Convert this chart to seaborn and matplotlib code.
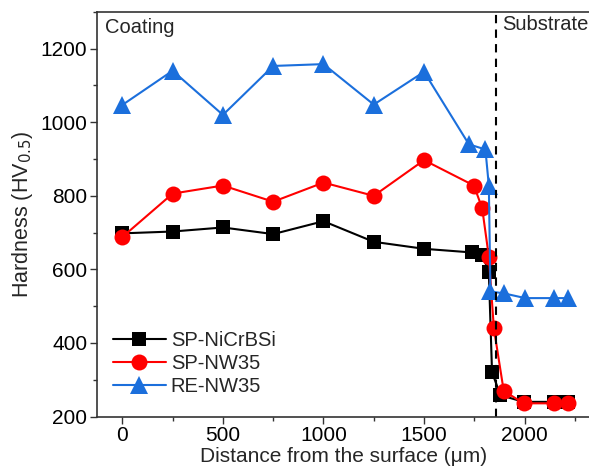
import numpy as np
import pandas as pd
import matplotlib
matplotlib.use('Agg')
import matplotlib.pyplot as plt
import seaborn as sns
from matplotlib.ticker import MultipleLocator

# data
x_nicrbsi = [0, 250, 500, 750, 1000, 1250, 1500, 1740, 1790, 1822, 1838, 1880, 1995, 2144, 2218]
y_nicrbsi = [698, 703, 714, 696, 731, 675, 656, 646, 640, 592, 320, 258, 240, 240, 240]

x_nw35 = [0, 250, 500, 750, 1000, 1250, 1500, 1748, 1789, 1822, 1847, 1896, 1995, 2144, 2218]
y_nw35 = [688, 806, 828, 784, 836, 800, 897, 828, 766, 635, 440, 270, 236, 236, 237]

x_re = [0, 250, 500, 750, 1000, 1250, 1500, 1723, 1805, 1822, 1830, 1896, 2003, 2144, 2218]
y_re = [1047, 1140, 1020, 1153, 1158, 1048, 1137, 940, 926, 828, 540, 535, 522, 522, 522]

series_names = ['SP-NiCrBSi', 'SP-NW35', 'RE-NW35']
interface = 1860

df = pd.concat([
    pd.DataFrame({'x': x_nicrbsi, 'y': y_nicrbsi, 'sample': series_names[0]}),
    pd.DataFrame({'x': x_nw35, 'y': y_nw35, 'sample': series_names[1]}),
    pd.DataFrame({'x': x_re, 'y': y_re, 'sample': series_names[2]}),
], ignore_index=True)

sns.set_style('ticks')
plt.rcParams['font.family'] = ['Liberation Sans', 'DejaVu Sans']

fig = plt.figure(figsize=(5.89, 4.75), dpi=100)
ax = fig.add_axes([0.165, 0.123, 0.835, 0.852])

palette = {'SP-NiCrBSi': 'black', 'SP-NW35': '#ff0000', 'RE-NW35': '#1b6fdc'}
markers = {'SP-NiCrBSi': 's', 'SP-NW35': 'o', 'RE-NW35': '^'}
sns.lineplot(data=df, x='x', y='y', hue='sample', style='sample',
             palette=palette, markers=markers, dashes=False, sort=False,
             errorbar=None, markersize=11, markeredgewidth=0, linewidth=1.5, ax=ax)

# marker sizes differ a little per shape in the original
msize = {'s': 9.8, 'o': 11.5, '^': 13}
for ln in ax.lines:
    m = ln.get_marker()
    if m in msize:
        ln.set_markersize(msize[m])

ax.axvline(interface, color='black', ls=(0, (4, 3)), lw=1.5)

ax.set_xlim(-125, 2320)
ax.set_ylim(200, 1300)
ax.xaxis.set_major_locator(MultipleLocator(500))
ax.xaxis.set_minor_locator(MultipleLocator(250))
ax.yaxis.set_minor_locator(MultipleLocator(100))
ax.set_yticks([200, 400, 600, 800, 1000, 1200])
ax.tick_params(which='major', direction='out', length=5, width=1, labelsize=15,
               colors='#333333', labelcolor='black', pad=2)
ax.tick_params(which='minor', direction='out', length=3, width=1, colors='#333333')
for s in ['left', 'bottom', 'top']:
    ax.spines[s].set_color('#333333')
    ax.spines[s].set_linewidth(1.2)
ax.spines['right'].set_visible(False)

ax.set_xlabel('Distance from the surface (μm)', fontsize=15, labelpad=1)
ax.set_ylabel('Hardness (HV$_{0.5}$)', fontsize=15.5, labelpad=4)

ax.text(0.015, 0.985, 'Coating', transform=ax.transAxes, fontsize=14.5, va='top', ha='left')
ax.text(interface + 30, 1300 - 8, 'Substrate', fontsize=14.5, va='top', ha='left')

leg = ax.legend(loc='lower left', bbox_to_anchor=(0.0, 0.01), frameon=False, fontsize=14.5,
                handlelength=2.6, handletextpad=0.25, labelspacing=0.2, borderaxespad=0.4)
for h in leg.legend_handles:
    m = h.get_marker()
    if m in msize:
        h.set_markersize(msize[m])

fig.savefig('out.png', dpi=100)
